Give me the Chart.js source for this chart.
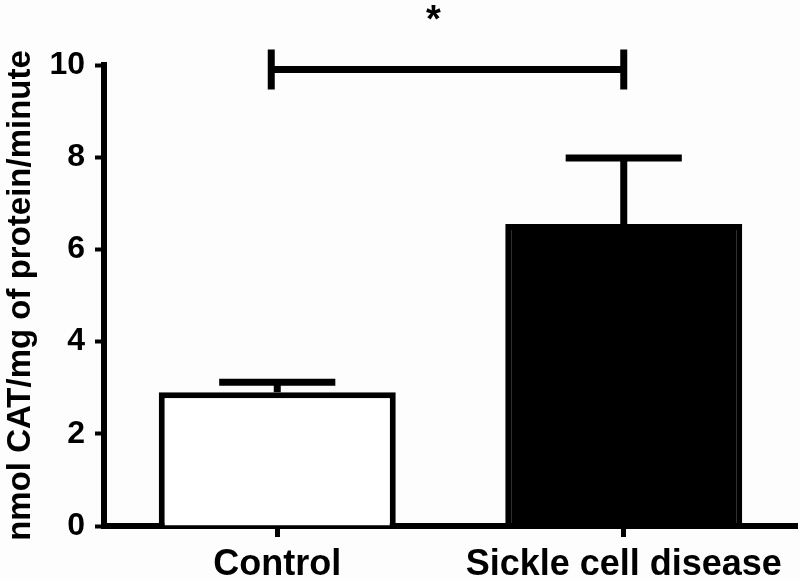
<!DOCTYPE html>
<html>
<head>
<meta charset="utf-8">
<script src="https://cdn.jsdelivr.net/npm/chart.js@4"></script>
<style>
  html, body { margin: 0; padding: 0; background: #fdfdfd; }
  #wrap { width: 800px; height: 579px; }
</style>
</head>
<body>
<div id="wrap"><canvas id="c" width="800" height="579"></canvas></div>
<script>
// ---- data ----
const categories = ['Control', 'Sickle cell disease'];
const meanValues = [2.9, 6.55];
const errorValues = [0.22, 1.43];          // upper error (SEM)
const barFill = ['#ffffff', '#000000'];
const yMin = 0, yMax = 10, yStep = 2;
const yTitle = 'nmol CAT/mg of protein/minute';
const bracketFrom = 0, bracketTo = 1, bracketLevel = 9.9;
const sigLabel = '*';

const FONT = '"Liberation Sans", Arial, Helvetica, sans-serif';

const errorBarPlugin = {
  id: 'errorBars',
  afterDatasetsDraw(chart) {
    const ctx = chart.ctx;
    const xs = chart.scales.x, ys = chart.scales.y;
    const meta = chart.getDatasetMeta(0);
    ctx.save();
    ctx.strokeStyle = '#000';
    ctx.lineWidth = 7;
    ctx.lineCap = 'butt';
    meta.data.forEach((bar, i) => {
      const x = xs.getPixelForValue(i);
      const yTop = ys.getPixelForValue(meanValues[i] + errorValues[i]);
      const yBar = ys.getPixelForValue(meanValues[i]);
      const half = bar.width * 0.245;
      ctx.beginPath();
      ctx.moveTo(x, yBar);
      ctx.lineTo(x, yTop);
      ctx.moveTo(x - half, yTop);
      ctx.lineTo(x + half, yTop);
      ctx.stroke();
    });
    ctx.restore();
  }
};

const bracketPlugin = {
  id: 'bracket',
  afterDraw(chart) {
    const ctx = chart.ctx;
    const xs = chart.scales.x, ys = chart.scales.y;
    const x1 = xs.getPixelForValue(bracketFrom) - 6;
    const x2 = xs.getPixelForValue(bracketTo);
    const y = ys.getPixelForValue(bracketLevel);
    ctx.save();
    ctx.strokeStyle = '#000';
    ctx.lineWidth = 7;
    ctx.beginPath();
    ctx.moveTo(x1, y); ctx.lineTo(x2, y);
    ctx.moveTo(x1, y - 20); ctx.lineTo(x1, y + 20);
    ctx.moveTo(x2, y - 20); ctx.lineTo(x2, y + 20);
    ctx.stroke();
    ctx.fillStyle = '#000';
    ctx.font = 'bold 38px ' + FONT;
    ctx.textAlign = 'center';
    ctx.textBaseline = 'middle';
    ctx.fillText(sigLabel, (x1 + x2) / 2 - 14, y - 48);
    ctx.restore();
  }
};

const bgPlugin = {
  id: 'bg',
  beforeDraw(chart) {
    const ctx = chart.ctx;
    ctx.save();
    ctx.fillStyle = '#fdfdfd';
    ctx.fillRect(0, 0, chart.width, chart.height);
    ctx.restore();
  }
};

new Chart(document.getElementById('c'), {
  type: 'bar',
  data: {
    labels: categories,
    datasets: [{
      data: meanValues,
      backgroundColor: barFill,
      borderColor: '#000',
      borderWidth: 6,
      borderSkipped: 'start',
      categoryPercentage: 1.0,
      barPercentage: 0.684
    }]
  },
  options: {
    responsive: false,
    animation: false,
    devicePixelRatio: 1,
    layout: { padding: { top: 65, right: 3, bottom: 0, left: 0 } },
    plugins: {
      legend: { display: false },
      tooltip: { enabled: false }
    },
    scales: {
      x: {
        offset: true,
        afterFit(scale) { scale.height = 53; },
        grid: {
          offset: false,
          drawOnChartArea: false,
          drawTicks: true,
          tickLength: 11,
          tickWidth: 5,
          tickColor: '#000'
        },
        border: { display: true, color: '#000', width: 6 },
        ticks: {
          color: '#000',
          padding: 6,
          maxRotation: 0,
          autoSkip: false,
          font: { family: FONT, size: 36, weight: 'bold', lineHeight: 1.2 }
        }
      },
      y: {
        min: yMin,
        max: yMax,
        afterFit(scale) { scale.width = 104; },
        grid: {
          drawOnChartArea: false,
          drawTicks: true,
          tickLength: 9,
          tickWidth: 4,
          tickColor: '#000'
        },
        border: { display: true, color: '#000', width: 6 },
        ticks: {
          stepSize: yStep,
          color: '#000',
          padding: 10,
          font: { family: FONT, size: 32, weight: 'bold' }
        },
        title: {
          display: true,
          text: yTitle,
          color: '#000',
          padding: { top: 1, bottom: 0 },
          font: { family: FONT, size: 33, weight: 'bold', lineHeight: 1.2 }
        }
      }
    }
  },
  plugins: [bgPlugin, errorBarPlugin, bracketPlugin]
});
</script>
</body>
</html>
